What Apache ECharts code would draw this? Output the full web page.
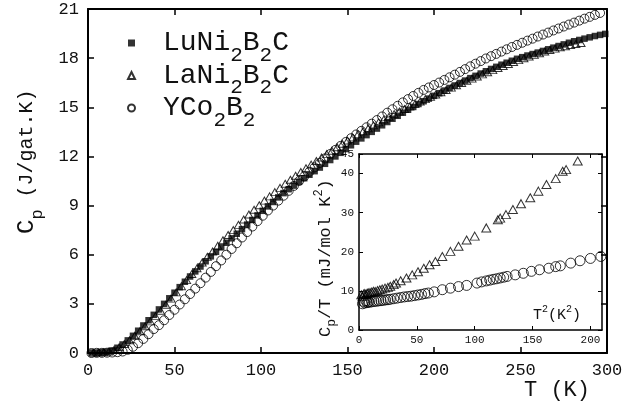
<!DOCTYPE html>
<html>
<head>
<meta charset="utf-8">
<script src="https://cdn.jsdelivr.net/npm/echarts@6/dist/echarts.min.js"></script>
<style>
html, body { margin: 0; padding: 0; background: #fff; }
#chart { width: 641px; height: 406px; }
</style>
</head>
<body>
<div id="chart"></div>
<script>
// Specific heat C_p (J/gat.K) versus temperature T (K)
const seriesNames = ['LuNi2B2C', 'LaNi2B2C', 'YCo2B2'];

const tLu = [2, 5, 8, 11, 14, 17, 20, 23, 26, 29, 32, 35, 38, 41, 44, 47, 50, 53, 56, 59,
  62, 65, 68, 71, 74, 77, 80, 83, 86, 89, 92, 95, 98, 101, 104, 107, 110, 113, 116, 119,
  122, 125, 128, 131, 134, 137, 140, 143, 146, 149, 152, 155, 158, 161, 164, 167, 170, 173, 176, 179,
  182, 185, 188, 191, 194, 197, 200, 203, 206, 209, 212, 215, 218, 221, 224, 227, 230, 233, 236, 239,
  242, 245, 248, 251, 254, 257, 260, 263, 266, 269, 272, 275, 278, 281, 284, 287, 290, 293, 296, 299];
const cpLu = [0.03, 0.03, 0.05, 0.08, 0.15, 0.32, 0.52, 0.77, 1.05, 1.36, 1.68, 2.0, 2.33, 2.66, 3.0, 3.34, 3.68, 4.02, 4.35, 4.67,
  4.98, 5.28, 5.6, 5.9, 6.18, 6.45, 6.73, 7.0, 7.28, 7.56, 7.84, 8.12, 8.4, 8.68, 8.95, 9.22, 9.5, 9.76, 10.0, 10.22,
  10.45, 10.67, 10.88, 11.1, 11.32, 11.55, 11.78, 12.0, 12.22, 12.45, 12.68, 12.9, 13.1, 13.3, 13.5, 13.7, 13.9, 14.1, 14.3, 14.48,
  14.67, 14.85, 15.02, 15.2, 15.37, 15.53, 15.7, 15.86, 16.02, 16.18, 16.33, 16.48, 16.63, 16.78, 16.92, 17.06, 17.2, 17.34, 17.47, 17.6,
  17.72, 17.84, 17.96, 18.06, 18.16, 18.25, 18.34, 18.44, 18.54, 18.64, 18.74, 18.84, 18.94, 19.03, 19.11, 19.19, 19.27, 19.35, 19.42, 19.48];

const tLa = [3, 6, 9, 12, 15, 18, 21, 24, 27, 30, 33, 36, 39, 42, 45, 48, 51, 54, 57, 60,
  63, 66, 69, 72, 75, 78, 81, 84, 87, 90, 93, 96, 99, 102, 105, 108, 111, 114, 117, 120,
  123, 126, 129, 132, 135, 138, 141, 144, 147, 150, 153, 156, 159, 162, 165, 168, 171, 174, 177, 180,
  183, 186, 189, 192, 195, 198, 201, 204, 207, 210, 213, 216, 219, 222, 225, 228, 231, 234, 237, 240,
  243, 246, 249, 252, 255, 258, 261, 264, 267, 270, 273, 276, 279, 282, 285];
const cpLa = [0.02, 0.03, 0.05, 0.09, 0.18, 0.35, 0.55, 0.78, 1.05, 1.33, 1.63, 1.93, 2.25, 2.58, 2.95, 3.32, 3.7, 4.08, 4.45, 4.82,
  5.17, 5.52, 5.87, 6.2, 6.55, 6.88, 7.2, 7.5, 7.82, 8.15, 8.45, 8.74, 9.02, 9.3, 9.56, 9.82, 10.08, 10.33, 10.58, 10.82,
  11.05, 11.28, 11.5, 11.72, 11.93, 12.14, 12.35, 12.56, 12.77, 12.97, 13.16, 13.35, 13.54, 13.72, 13.9, 14.08, 14.25, 14.42, 14.58, 14.74,
  14.9, 15.05, 15.2, 15.35, 15.5, 15.64, 15.78, 15.92, 16.06, 16.2, 16.34, 16.48, 16.62, 16.75, 16.88, 17.01, 17.14, 17.27, 17.4, 17.52,
  17.64, 17.76, 17.88, 17.99, 18.1, 18.2, 18.3, 18.4, 18.5, 18.58, 18.66, 18.73, 18.8, 18.86, 18.92];

const tY = [2, 5, 8, 11, 14, 17, 20, 23, 26, 29, 32, 35, 38, 41, 44, 47, 50, 53, 56, 59,
  62, 65, 68, 71, 74, 77, 80, 83, 86, 89, 92, 95, 98, 101, 104, 107, 110, 113, 116, 119,
  122, 125, 128, 131, 134, 137, 140, 143, 146, 149, 152, 155, 158, 161, 164, 167, 170, 173, 176, 179,
  182, 185, 188, 191, 194, 197, 200, 203, 206, 209, 212, 215, 218, 221, 224, 227, 230, 233, 236, 239,
  242, 245, 248, 251, 254, 257, 260, 263, 266, 269, 272, 275, 278, 281, 284, 287, 290, 293, 296];
const cpY = [0.0, 0.01, 0.01, 0.02, 0.03, 0.05, 0.09, 0.2, 0.38, 0.6, 0.86, 1.15, 1.46, 1.7, 2.0, 2.32, 2.64, 2.96, 3.28, 3.6,
  3.93, 4.26, 4.6, 4.95, 5.3, 5.65, 6.0, 6.35, 6.7, 7.05, 7.38, 7.72, 8.05, 8.38, 8.7, 9.0, 9.3, 9.6, 9.9, 10.2,
  10.5, 10.78, 11.06, 11.33, 11.6, 11.88, 12.15, 12.4, 12.64, 12.88, 13.11, 13.34, 13.56, 13.78, 14.0, 14.22, 14.44, 14.67, 14.88, 15.09,
  15.3, 15.5, 15.69, 15.88, 16.06, 16.21, 16.36, 16.51, 16.67, 16.83, 16.99, 17.16, 17.33, 17.5, 17.66, 17.82, 17.98, 18.12, 18.26, 18.4,
  18.54, 18.68, 18.81, 18.94, 19.07, 19.19, 19.32, 19.44, 19.56, 19.69, 19.81, 19.93, 20.05, 20.17, 20.29, 20.41, 20.52, 20.64, 20.76];

// Inset: C_p/T (mJ/mol K^2) versus T^2 (K^2)
const t2La = [2, 3, 4, 5, 6, 7, 8, 9.5, 11, 12.5, 14, 16, 18, 20, 22.5, 25, 27, 30, 32, 36,
  41, 46, 51, 56, 61, 66, 72, 79, 86, 93, 100, 110, 120, 122, 127, 133, 140, 148, 155, 162,
  170, 176, 179, 189];
const cptLa = [9.0, 8.6, 9.2, 9.3, 9.1, 9.4, 9.5, 9.6, 9.7, 9.9, 9.85, 10.1, 10.3, 10.5, 10.7, 10.9, 11.2, 11.6, 12.0, 12.6,
  13.3, 14.1, 14.9, 15.8, 16.7, 17.5, 18.8, 20.1, 21.4, 23.0, 24.0, 26.1, 28.2, 28.6, 29.5, 30.8, 32.3, 33.8, 35.5, 37.2,
  38.7, 40.6, 41.0, 43.2];

const t2Y = [3, 4, 5, 6, 7, 8, 9, 11, 13, 15, 17, 19, 21, 23, 25, 27, 30, 33, 36, 39,
  42, 45, 48, 51, 54, 57, 60, 65, 72, 79, 86, 93, 102, 106, 110, 113, 116, 119, 122, 125,
  128, 135, 142, 149, 156, 164, 170, 174, 183, 191, 200, 209];
const cptY = [6.7, 7.3, 6.9, 7.5, 7.0, 7.2, 7.1, 7.2, 7.3, 7.35, 7.45, 7.5, 7.6, 7.7, 7.75, 7.85, 8.0, 8.15, 8.3, 8.45,
  8.55, 8.65, 8.8, 8.95, 9.1, 9.3, 9.45, 9.75, 10.3, 10.7, 11.1, 11.4, 12.0, 12.3, 12.55, 12.75, 12.95, 13.1, 13.3, 13.5,
  13.7, 14.1, 14.5, 15.0, 15.4, 15.8, 16.2, 16.4, 17.1, 17.7, 18.3, 18.8];

const MONO = '"Liberation Mono", "DejaVu Sans Mono", monospace';
const INK = '#111';

function pairs(xs, ys) { return xs.map((x, i) => [x, ys[i]]); }

// chemical formulas with subscripted digits
const formula = {
  LuNi2B2C: '{n|LuNi}{s|2}{n|B}{s|2}{n|C}',
  LaNi2B2C: '{n|LaNi}{s|2}{n|B}{s|2}{n|C}',
  YCo2B2: '{n|YCo}{s|2}{n|B}{s|2}'
};

const hollow = { color: 'rgba(255,255,255,0)', borderColor: '#000', borderWidth: 1 };

function frameAxis(grid, pos, min, max, interval, big, showLabel) {
  return {
    gridIndex: grid, type: 'value', position: pos, min: min, max: max, interval: interval,
    axisLine: { show: true, onZero: false, lineStyle: { color: '#000', width: big ? 2 : 1.5 } },
    axisTick: { show: true, inside: true, length: big ? 6 : 4, lineStyle: { color: '#000', width: big ? 1.5 : 1 } },
    splitLine: { show: false },
    axisLabel: showLabel ? {
      show: true, margin: big ? 9 : 5, fontFamily: MONO, fontSize: big ? 17 : 11, color: INK
    } : { show: false }
  };
}

const chart = echarts.init(document.getElementById('chart'), null, { renderer: 'canvas' });

chart.setOption({
  animation: false,
  backgroundColor: '#fff',
  grid: [
    { left: 88, top: 9, width: 519, height: 344, outerBoundsMode: 'none' },
    { left: 359, top: 154, width: 243, height: 176, outerBoundsMode: 'none' }
  ],
  xAxis: [
    frameAxis(0, 'bottom', 0, 300, 50, true, true),
    frameAxis(0, 'top', 0, 300, 50, true, false),
    frameAxis(1, 'bottom', 0, 210, 50, false, true),
    frameAxis(1, 'top', 0, 210, 50, false, false)
  ],
  yAxis: [
    frameAxis(0, 'left', 0, 21, 3, true, true),
    frameAxis(0, 'right', 0, 21, 3, true, false),
    frameAxis(1, 'left', 0, 45, 10, false, true),
    frameAxis(1, 'right', 0, 45, 10, false, false)
  ],
  legend: {
    orient: 'vertical', left: 127, top: 29, padding: 0, itemGap: -4,
    itemWidth: 7, itemHeight: 7, selectedMode: false,
    data: [
      { name: seriesNames[0], icon: 'rect' },
      { name: seriesNames[1], icon: 'triangle' },
      { name: seriesNames[2], icon: 'circle' }
    ],
    formatter: name => formula[name],
    textStyle: {
      fontFamily: MONO, fontSize: 28, color: INK, padding: [0, 0, 0, 23],
      rich: {
        n: { fontFamily: MONO, fontSize: 28, lineHeight: 32, color: INK },
        s: { fontFamily: MONO, fontSize: 21, height: 8, lineHeight: 8, verticalAlign: 'bottom', color: INK }
      }
    }
  },
  graphic: [
    {
      type: 'text', x: 590, y: 390, silent: true,
      style: { text: 'T (K)', fontFamily: MONO, fontSize: 22, fill: INK, align: 'right', verticalAlign: 'middle' }
    },
    {
      type: 'text', x: 27, y: 234, rotation: Math.PI / 2, silent: true,
      style: {
        text: '{c|C}{p|p}{r| (J/gat.K)}', align: 'left', verticalAlign: 'middle',
        rich: {
          c: { fontFamily: MONO, fontSize: 24, lineHeight: 28, fill: INK },
          p: { fontFamily: MONO, fontSize: 17, height: 8, lineHeight: 8, verticalAlign: 'bottom', fill: INK },
          r: { fontFamily: MONO, fontSize: 20, lineHeight: 28, fill: INK }
        }
      }
    },
    {
      type: 'text', x: 325, y: 337, rotation: Math.PI / 2, silent: true,
      style: {
        text: '{n|C}{s|p}{n|/T (mJ/mol K}{u|2}{n|)}', align: 'left', verticalAlign: 'middle',
        rich: {
          n: { fontFamily: MONO, fontSize: 17, lineHeight: 20, fill: INK },
          s: { fontFamily: MONO, fontSize: 13, height: 6, lineHeight: 6, verticalAlign: 'bottom', fill: INK },
          u: { fontFamily: MONO, fontSize: 12, height: 8, lineHeight: 8, verticalAlign: 'top', fill: INK }
        }
      }
    },
    {
      type: 'text', x: 533, y: 315, silent: true,
      style: {
        text: '{n|T}{u|2}{n|(K}{u|2}{n|)}', align: 'left', verticalAlign: 'middle',
        rich: {
          n: { fontFamily: MONO, fontSize: 15, lineHeight: 18, fill: INK },
          u: { fontFamily: MONO, fontSize: 10, height: 6, lineHeight: 6, verticalAlign: 'top', fill: INK }
        }
      }
    }
  ],
  series: [
    {
      name: seriesNames[1], type: 'scatter', xAxisIndex: 0, yAxisIndex: 0,
      data: pairs(tLa, cpLa), symbol: 'triangle', symbolSize: [8, 7], itemStyle: hollow, silent: true
    },
    {
      name: seriesNames[2], type: 'scatter', xAxisIndex: 0, yAxisIndex: 0,
      data: pairs(tY, cpY), symbol: 'circle', symbolSize: 9, itemStyle: hollow, silent: true
    },
    {
      name: seriesNames[0], type: 'scatter', xAxisIndex: 0, yAxisIndex: 0,
      data: pairs(tLu, cpLu), symbol: 'rect', symbolSize: 6.5, itemStyle: { color: '#000' }, silent: true
    },
    {
      name: seriesNames[1], type: 'scatter', xAxisIndex: 2, yAxisIndex: 2,
      data: pairs(t2La, cptLa), symbol: 'triangle', symbolSize: [9, 8], itemStyle: hollow, silent: true
    },
    {
      name: seriesNames[2], type: 'scatter', xAxisIndex: 2, yAxisIndex: 2,
      data: pairs(t2Y, cptY), symbol: 'circle', symbolSize: 10, itemStyle: hollow, silent: true
    }
  ]
});
</script>
</body>
</html>
